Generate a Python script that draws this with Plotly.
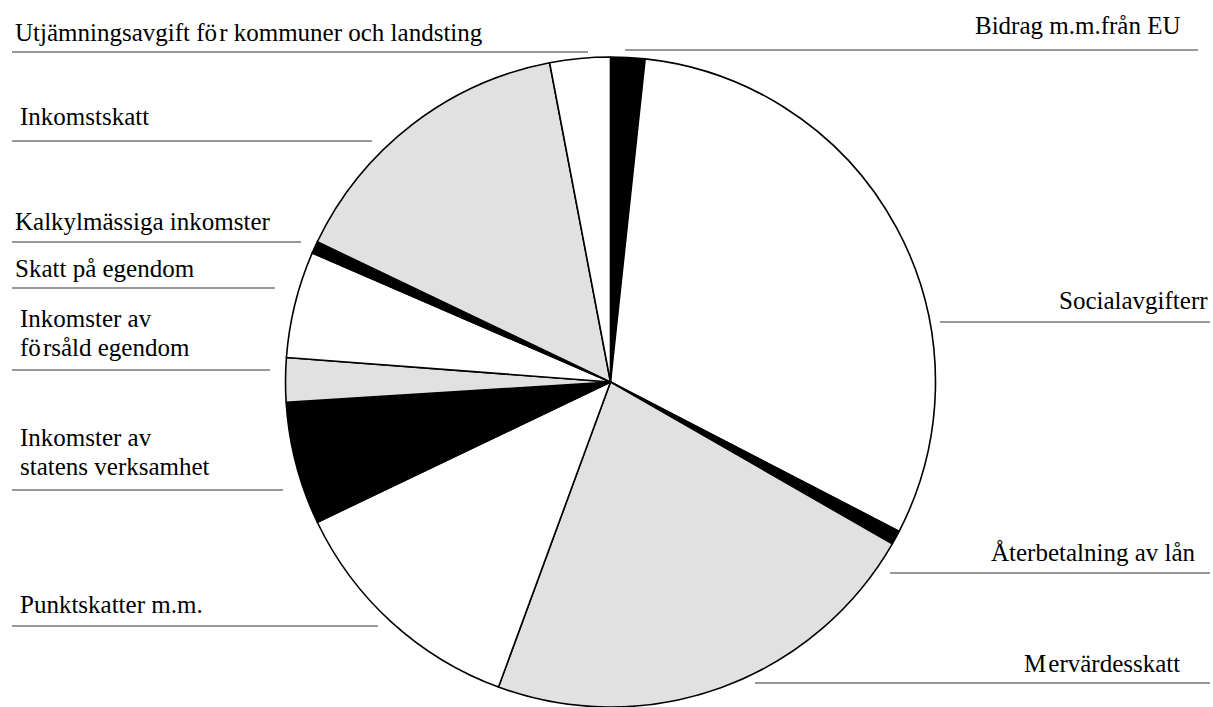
import plotly.graph_objects as go

# Data (clockwise from 12 o'clock), shares in percent
categories = [
    "Bidrag m.m.från EU",
    "Socialavgifterr",
    "Återbetalning av lån",
    "Mervärdesskatt",
    "Punktskatter m.m.",
    "Inkomster av statens verksamhet",
    "Inkomster av försåld egendom",
    "Skatt på egendom",
    "Kalkylmässiga inkomster",
    "Inkomstskatt",
    "Utjämningsavgift för kommuner och landsting",
]
values = [1.7, 30.9, 0.7, 22.3, 12.3, 6.1, 2.2, 5.3, 0.6, 14.9, 3.0]
label_texts = [
    "Bidrag m.m.från EU",
    "Socialavgifterr",
    "Återbetalning av lån",
    "M\u200aervärdesskatt",
    "Punktskatter m.m.",
    "Inkomster av<br>statens verksamhet",
    "Inkomster av<br>fö\u200arsåld egendom",
    "Skatt på egendom",
    "Kalkylmässiga inkomster",
    "Inkomstskatt",
    "Utjämningsavgift fö\u200ar kommuner och landsting",
]

W, H = 1213, 707
BLACK, WHITE, GRAY = "#000000", "#ffffff", "#e1e1e1"
colors = [BLACK, WHITE, BLACK, GRAY, WHITE, BLACK, GRAY, WHITE, BLACK, GRAY, WHITE]

# layout for labels: (side, text x, first-line center y, line y, line x0, line x1) in pixels
label_layout = [
    ("right", 1183, 25, 50, 625, 1198),
    ("right", 1210, 301, 322, 940, 1210),
    ("right", 1198, 552, 573, 890, 1210),
    ("right", 1182, 663, 683, 755, 1210),
    ("left", 18, 604, 626, 12, 378),
    ("left", 18, 437, 490, 12, 283),
    ("left", 18, 318, 370, 12, 270),
    ("left", 13, 268, 288, 12, 275),
    ("left", 13, 222, 242, 12, 301),
    ("left", 18, 116, 141, 12, 372),
    ("left", 13, 32, 52, 12, 588),
]
LINE_STEP = 29  # px between lines of two-line labels

def px(x):
    return x / W

def py(y):
    return 1 - y / H

fig = go.Figure(
    go.Pie(
        labels=categories,
        values=values,
        sort=False,
        direction="clockwise",
        rotation=0,
        textinfo="none",
        hoverinfo="label+percent",
        marker=dict(colors=colors, line=dict(color="#000000", width=1.6)),
        domain=dict(x=[px(283), px(938)], y=[0, py(57)]),
        showlegend=False,
    )
)

FONT = dict(family="Liberation Serif", size=25, color="#000000")
annotations = []
shapes = []
for txt, (side, tx, ty, ly, lx0, lx1) in zip(label_texts, label_layout):
    for i, part in enumerate(txt.split("<br>")):
        annotations.append(dict(
            x=px(tx), y=py(ty + i * LINE_STEP), xref="paper", yref="paper",
            text=part, showarrow=False, font=FONT,
            xanchor="right" if side == "right" else "left",
            yanchor="middle",
        ))
    shapes.append(dict(
        type="line", xref="paper", yref="paper",
        x0=px(lx0), x1=px(lx1), y0=py(ly), y1=py(ly),
        line=dict(color="#333333", width=1.2),
    ))

fig.update_layout(
    width=W, height=H,
    margin=dict(l=0, r=0, t=0, b=0),
    paper_bgcolor="#ffffff",
    plot_bgcolor="#ffffff",
    annotations=annotations,
    shapes=shapes,
)

fig.write_html(
    "out.html",
    config={"displayModeBar": False},
    post_script="document.body.style.margin='0';document.body.style.overflow='hidden';",
)
